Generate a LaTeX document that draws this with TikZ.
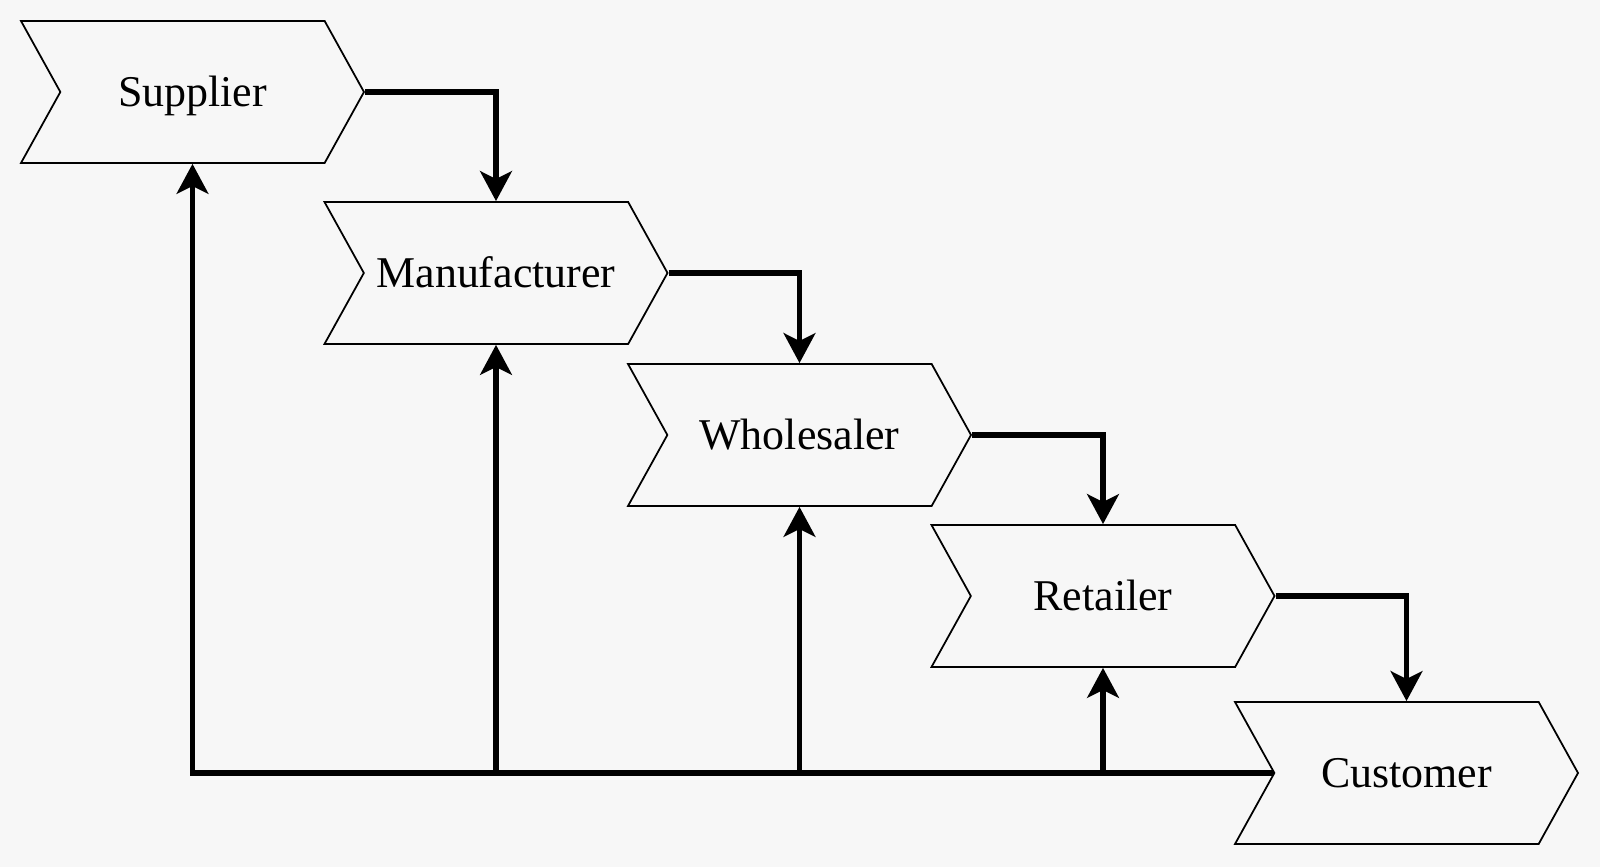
\documentclass[tikz,border=0pt]{standalone}
\usepackage{fontspec}
\setmainfont{Liberation Serif}
\usetikzlibrary{arrows.meta}
\usetikzlibrary{shapes.symbols}
\definecolor{bgcol}{HTML}{F7F7F7}

\begin{document}
\begin{tikzpicture}[every node/.style={font=\fontsize{12.5}{15}\selectfont},
    stage/.style={signal,signal to=east,signal from=west,signal pointer angle=122,draw,fill=bgcol,line width=0.5pt,minimum width=3.43cm,minimum height=1.42cm,inner sep=0pt,text height=1.8ex,text depth=0pt},
    flow/.style={line width=1.6pt,-{Stealth[length=8.5pt,width=9pt,inset=2.2pt]}}]
    \fill[bgcol] (0,0) rectangle (16,8.67);
    \useasboundingbox (0,0) rectangle (16,8.67);
    % chain
    \node[stage] (sup) at (1.925,7.75) {Supplier};
    \node[stage] (man) at (4.96,5.94) {Manufacturer};
    \node[stage] (who) at (7.995,4.32) {Wholesaler};
    \node[stage] (ret) at (11.03,2.71) {Retailer};
    \node[stage] (cus) at (14.065,0.94) {Customer};
    \draw[flow] (sup.east) -| (man.north);
    \draw[flow] (man.east) -| (who.north);
    \draw[flow] (who.east) -| (ret.north);
    \draw[flow] (ret.east) -| (cus.north);
    % feedback
    \coordinate (back) at (cus.west);
    \draw[flow] (back) -| (sup.south);
    \draw[flow] (man.south |- back) -- (man.south);
    \draw[flow] (who.south |- back) -- (who.south);
    \draw[flow] (ret.south |- back) -- (ret.south);
\end{tikzpicture}
\end{document}
